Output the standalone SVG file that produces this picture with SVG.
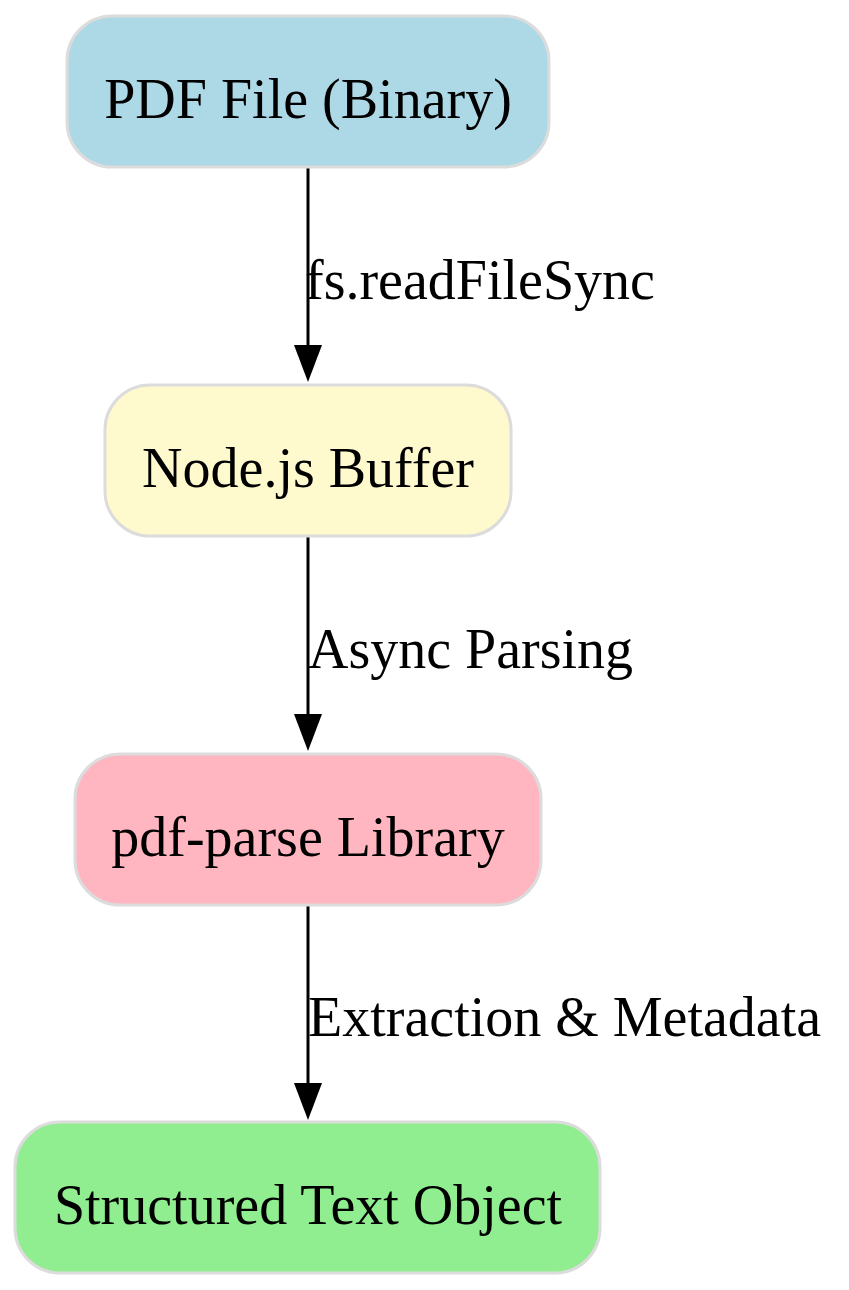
<svg xmlns="http://www.w3.org/2000/svg" width="849" height="1290" viewBox="0 0 849 1290">
<style>
.n{stroke:#dcdcdc;stroke-width:3}
text{font-family:"Liberation Serif","Times New Roman",serif;font-size:56px;fill:#000}
.c{text-anchor:middle}
.e{stroke:#000;stroke-width:3;fill:none}
</style>
<rect width="849" height="1290" fill="#fff"/>
<g id="connectors">
<path class="e" d="M308,167V345"/><path d="M294,345L308,382L322,345z"/>
<text x="305" y="299">fs.readFileSync</text>
<path class="e" d="M308,536V714"/><path d="M294,714L308,751L322,714z"/>
<text x="308" y="668">Async Parsing</text>
<path class="e" d="M308,905V1083"/><path d="M294,1083L308,1120L322,1083z"/>
<text x="308" y="1036">Extraction &amp; Metadata</text>
</g>
<g id="n1"><rect class="n" x="67" y="16" width="482" height="151" rx="45" fill="#add8e6"/><text class="c" x="308" y="118">PDF File (Binary)</text></g>
<g id="n2"><rect class="n" x="105" y="385" width="406" height="151" rx="45" fill="#fffacd"/><text class="c" x="308" y="487">Node.js Buffer</text></g>
<g id="n3"><rect class="n" x="75" y="754" width="466" height="151" rx="45" fill="#ffb6c1"/><text class="c" x="308" y="856">pdf-parse Library</text></g>
<g id="n4"><rect class="n" x="15" y="1122" width="585" height="151" rx="45" fill="#90ee90"/><text class="c" x="308" y="1224">Structured Text Object</text></g>
</svg>
